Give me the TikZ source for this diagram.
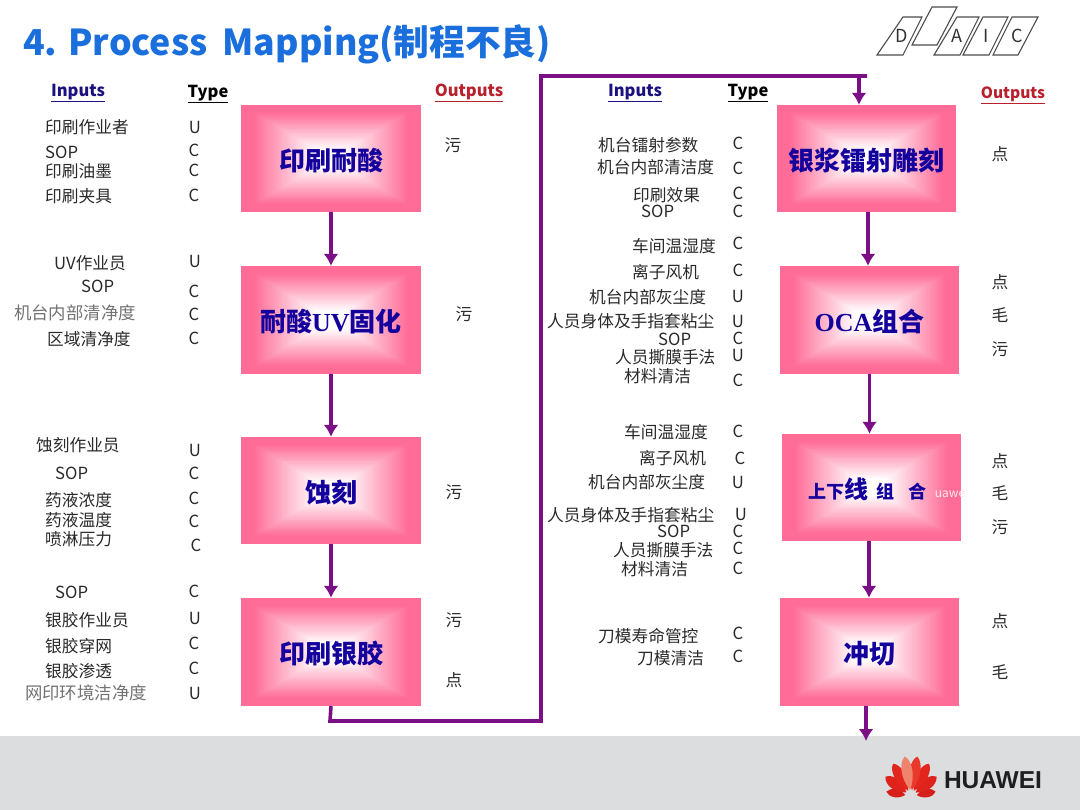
\documentclass[tikz,border=0pt]{standalone}
\usepackage{fontspec}
\setmainfont{Noto Sans CJK SC}
\usetikzlibrary{arrows.meta}
\definecolor{flowc}{HTML}{7A0F86}
\definecolor{pinkc}{HTML}{FF6C98}
\definecolor{navyc}{HTML}{14009C}
\definecolor{hdnavy}{HTML}{1A1080}
\definecolor{hdred}{HTML}{B8202C}
\definecolor{titlec}{HTML}{1A6FDC}
\definecolor{footc}{HTML}{DCDDDF}
\definecolor{inkc}{HTML}{2A2A2A}
\newfontfamily\serifbold[BoldFont=Liberation Serif Bold]{Liberation Serif}
\newfontfamily\logofont{Liberation Sans}
\newcount\tcnt
\newcommand{\fsz}[1]{\fontsize{#1}{#1}\selectfont}
\newcommand{\putL}[3]{\global\advance\tcnt by 1 \node[lbl,anchor=west] (t\the\tcnt) at (#1,#2) {#3};}
\newcommand{\putC}[3]{\global\advance\tcnt by 1 \node[lbl] (t\the\tcnt) at (#1,#2) {#3};}
\newcommand{\putG}[3]{\global\advance\tcnt by 1 \node[lbl,anchor=west,text=black!55,font=\fsz{17.4}] (t\the\tcnt) at (#1,#2) {#3};}
\newcommand{\hdr}[5]{\global\advance\tcnt by 1 \node[hd,text=#4,font=\fsz{#5}\bfseries] (t\the\tcnt) at (#1,#2) {\underline{#3}};}
\newcommand{\procbox}[6]{%
  \foreach \k in {0,...,59}{%
    \pgfmathsetmacro{\tt}{\k/59}%
    \pgfmathsetmacro{\pc}{max(0,min(100,100*(0.84-\tt)/0.70))}%
    \fill[pinkc!\pc!white] ({#2+\tt*(#4-#2)/2},{#3+\tt*(#5-#3)/2}) rectangle ({#4-\tt*(#4-#2)/2},{#5-\tt*(#5-#3)/2});
  }%
  \node[boxlbl,minimum width={(#4-#2)*1pt},minimum height={(#5-#3)*1pt}] (#1) at ({(#2+#4)/2},{(#3+#5)/2}) {\raisebox{-2pt}[\height][\depth]{#6}};
}
\newcommand{\para}[4]{\draw[logoln] (#1,55) -- (#2,55) -- (#3,17) -- (#4,17) -- cycle;}
\tikzset{
  lbl/.style={inner sep=0pt,font=\fsz{16.7},text=inkc},
  hd/.style={inner sep=0pt},
  boxlbl/.style={inner sep=0pt,font=\fsz{26}\bfseries,text=navyc,align=center},
  flow/.style={draw=flowc,line width=3.6pt,-{Latex[width=15pt,length=12pt]}},
  flowplain/.style={draw=flowc,line width=3.6pt},
  logoln/.style={draw=black!70,line width=1.1pt},
  logotx/.style={inner sep=0pt,font=\fsz{18}\itshape,text=black!80}
}
\begin{document}
\begin{tikzpicture}[x=1pt,y=-1pt]
\useasboundingbox (0,0) rectangle (1080,810);
\fill[white] (0,0) rectangle (1080,810);
\fill[footc] (0,736) rectangle (1080,810);

% title
\node[anchor=west,inner sep=0pt,text=titlec,font=\fsz{35.7}\bfseries] (title) at (23,44) {4. Process\hspace{7pt} Mapping(制程不良)};

% DAIC logo
\para{877}{903}{922}{903}
\para{934}{960}{979}{957}
\draw[logoln,fill=white] (912,45) -- (937,45) -- (957,7) -- (932,7) -- cycle;
\para{963}{989}{1008}{983}
\para{993}{1018}{1038}{1012}
\node[logotx] (ld) at (902,36) {D};
\node[logotx] (la) at (957,36) {A};
\node[logotx] (li) at (986,36) {I};
\node[logotx] (lc) at (1017,36) {C};

% boxes
\procbox{b1}{241}{105}{421}{212}{印刷耐酸}
\procbox{b2}{241}{266}{421}{374}{耐酸{\serifbold\bfseries UV}固化}
\procbox{b3}{241}{437}{421}{544}{蚀刻}
\procbox{b4}{241}{598}{421}{706}{印刷银胶}
\procbox{r1}{777}{105}{956}{212}{银浆镭射雕刻}
\procbox{r2}{780}{266}{959}{374}{{\serifbold\bfseries OCA}组合}
\procbox{r3}{782}{434}{961}{541}{\fsz{18}上下{\fsz{24}线}\hspace{8pt}组\hspace{14pt}合\hspace{8pt}}
\procbox{r4}{780}{598}{959}{706}{冲切}
\node[inner sep=0pt,font=\fsz{12},text=white!85!pinkc] (wm) at (950,494) {uawe};

% connectors
\coordinate (c1) at (330,721);
\coordinate (c2) at (541,721);
\coordinate (c3) at (541,76);
\coordinate (c4) at (867,76);
\coordinate (c5) at (859,76);
\coordinate (endp) at (866,741);
\draw[flow] (b1.south) -- (b1.south |- b2.north);
\draw[flow] (b2.south) -- (b2.south |- b3.north);
\draw[flow] (b3.south) -- (b3.south |- b4.north);
\draw[flowplain,line join=miter] (b4.south) -- (c1) -- (c2) -- (c3) -- (c4);
\draw[flow] (c5) -- (c5 |- r1.north);
\draw[flow] ([xshift=1.5pt]r1.south) -- ([xshift=1.5pt]r1.south |- r2.north);
\draw[flow] (r2.south) -- (r2.south |- r3.north);
\draw[flow] ([xshift=-2.5pt]r3.south) -- ([xshift=-2.5pt]r3.south |- r4.north);
\draw[flow] (endp |- r4.south) -- (endp);

% headers
\hdr{78}{93}{Inputs}{hdnavy}{16.5}
\hdr{208}{94}{Type}{black}{16.5}
\hdr{469}{93}{Outputs}{hdred}{16.5}
\hdr{635}{93}{Inputs}{hdnavy}{16.5}
\hdr{748}{93}{Type}{black}{16.5}
\hdr{1013}{95}{Outputs}{hdred}{15.5}

% left inputs
\putL{45}{127}{印刷作业者}\putL{45}{152}{SOP}\putL{45}{171}{印刷油墨}\putL{45}{196}{印刷夹具}
\putL{54}{263}{UV作业员}\putL{81}{286}{SOP}\putG{14}{313}{机台内部清净度}\putL{47}{339}{区域清净度}
\putL{36}{445}{蚀刻作业员}\putL{55}{473}{SOP}\putL{45}{500}{药液浓度}\putL{45}{520}{药液温度}\putL{45}{539}{喷淋压力}
\putL{55}{592}{SOP}\putL{45}{620}{银胶作业员}\putL{45}{646}{银胶穿网}\putL{45}{671}{银胶渗透}\putG{25}{693}{网印环境洁净度}

% left types
\putC{195}{127}{U}\putC{194}{150}{C}\putC{194}{170}{C}\putC{194}{195}{C}
\putC{195}{261}{U}\putC{194}{291}{C}\putC{194}{314}{C}\putC{194}{338}{C}
\putC{195}{450}{U}\putC{194}{473}{C}\putC{194}{498}{C}\putC{194}{521}{C}\putC{196}{545}{C}
\putC{194}{591}{C}\putC{195}{618}{U}\putC{194}{643}{C}\putC{194}{668}{C}\putC{195}{693}{U}

% left outputs
\putC{453}{145}{污}\putC{464}{314}{污}\putC{454}{492}{污}\putC{454}{620}{污}\putC{454}{680}{点}

% right inputs
\putL{598}{145}{机台镭射参数}\putL{597}{167}{机台内部清洁度}\putL{633}{195}{印刷效果}\putL{641}{211}{SOP}
\putL{632}{246}{车间温湿度}\putL{632}{272}{离子风机}\putL{589}{297}{机台内部灰尘度}\putL{547}{321}{人员身体及手指套粘尘}\putL{658}{339}{SOP}\putL{615}{357}{人员撕膜手法}\putL{624}{376}{材料清洁}
\putL{624}{432}{车间温湿度}\putL{639}{458}{离子风机}\putL{588}{482}{机台内部灰尘度}\putL{547}{515}{人员身体及手指套粘尘}\putL{657}{531}{SOP}\putL{613}{550}{人员撕膜手法}\putL{621}{569}{材料清洁}
\putL{598}{636}{刀模寿命管控}\putL{637}{658}{刀模清洁}

% right types
\putC{738}{143}{C}\putC{738}{168}{C}\putC{738}{193}{C}\putC{738}{211}{C}
\putC{738}{243}{C}\putC{738}{270}{C}\putC{738}{296}{U}\putC{738}{321}{U}\putC{738}{338}{C}\putC{738}{355}{U}\putC{738}{380}{C}
\putC{738}{431}{C}\putC{740}{458}{C}\putC{738}{482}{U}\putC{741}{514}{U}\putC{738}{531}{C}\putC{738}{548}{C}\putC{738}{568}{C}
\putC{738}{633}{C}\putC{738}{656}{C}

% right outputs
\putC{1000}{154}{点}\putC{1000}{282}{点}\putC{1000}{315}{毛}\putC{1000}{349}{污}
\putC{1000}{461}{点}\putC{1000}{493}{毛}\putC{1000}{527}{污}\putC{1000}{621}{点}\putC{1000}{672}{毛}

% Huawei logo
\foreach \a/\l/\w/\c in {-80/25/6/D81E1A,80/25/6/D81E1A,-53/32/8/DE221C,53/32/8/DE221C,-29/37/8/E2261E,29/37/8/E2261E,-9/40/8/E8392C,9/40/8/F0836E}{
  \definecolor{petalc}{HTML}{\c}
  \fill[petalc,rotate around={\a:(911,796)}] (911,790)
    .. controls ({911-\w},{796-0.5*\l}) and ({911-0.8*\w},{796-0.88*\l}) .. (911,{796-\l})
    .. controls ({911+0.8*\w},{796-0.88*\l}) and ({911+\w},{796-0.5*\l}) .. cycle;
}
\node[inner sep=0pt,font=\logofont\fsz{24.5}\bfseries,text=black!88] (hw) at (993,780) {HUAWEI};
\end{tikzpicture}
\end{document}
